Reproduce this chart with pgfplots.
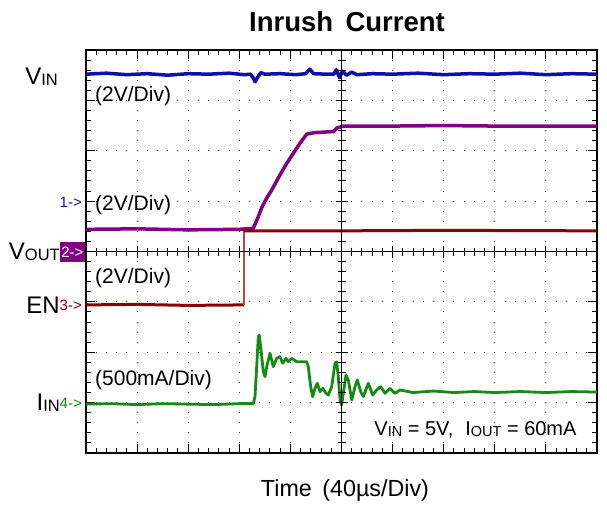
\documentclass[border=0pt]{standalone}
\usepackage{pgfplots}
\pgfplotsset{compat=1.18}
\usepackage{fontspec}
\setmainfont{Liberation Sans}
\definecolor{cblue}{RGB}{15,15,170}
\definecolor{cpurple}{RGB}{130,0,130}
\definecolor{cred}{RGB}{140,0,0}
\definecolor{credl}{RGB}{195,70,70}
\definecolor{cgreen}{RGB}{20,140,20}
\newcommand\biglbl[2]{{\fontsize{24}{24}\selectfont #1}\raisebox{-1.2pt}{\fontsize{16.5}{16.5}\selectfont #2}}
\newcommand\smlbl[2]{{\fontsize{20}{20}\selectfont #1}\raisebox{-1pt}{\fontsize{14.5}{14.5}\selectfont #2}}
\begin{document}
\begin{tikzpicture}
\path[use as bounding box] (-86pt,-56pt) rectangle (521pt,453pt);
\begin{axis}[at={(0pt,0pt)}, anchor=south west, scale only axis,
  width=511pt, height=403pt,
  xmin=0, xmax=10, ymin=0, ymax=8,
  xtick={0,...,10}, ytick={0,...,8},
  minor x tick num=4, minor y tick num=4,
  xticklabels={}, yticklabels={},
  tick align=inside, major tick length=9pt, minor tick length=5pt,
  every tick/.style={black, line width=1pt},
  axis line style={line width=1.3pt},
  grid=major,
  x grid style={black!80, line width=1pt, dash pattern=on 1pt off 9.075pt, dash phase=0.5pt},
  y grid style={black!80, line width=1pt, dash pattern=on 1pt off 9.22pt, dash phase=0.5pt},
  clip=false]
% VIN
\addplot[cblue, line width=3.5pt, line join=round] coordinates {
(0,7.52)(0.4,7.54)(0.8,7.51)(1.2,7.53)(1.6,7.50)(2.0,7.53)(2.4,7.52)(2.8,7.54)(3.1,7.51)(3.22,7.52)
(3.27,7.45)(3.31,7.37)(3.36,7.46)(3.42,7.55)(3.5,7.52)(3.8,7.53)(4.1,7.51)(4.3,7.53)(4.38,7.62)
(4.45,7.53)(4.7,7.52)(4.85,7.52)(4.9,7.61)(4.96,7.45)(5.02,7.58)(5.1,7.50)(5.2,7.56)(5.3,7.51)
(5.6,7.53)(6.0,7.52)(6.5,7.54)(7.0,7.51)(7.5,7.53)(8.0,7.52)(8.5,7.54)(9.0,7.51)(9.5,7.53)(10,7.52)};
% VOUT
\addplot[cpurple, line width=3.5pt, line join=round] coordinates {
(0,4.44)(1,4.45)(2,4.43)(3,4.44)(3.274,4.46)(3.372,4.69)(3.438,4.87)(3.536,5.06)(3.634,5.22)
(3.796,5.52)(3.928,5.75)(4.057,5.95)(4.188,6.15)(4.319,6.33)(4.481,6.36)(4.65,6.37)(4.840,6.38)
(4.906,6.45)(5.035,6.49)(6,6.49)(7,6.50)(8,6.49)(9,6.49)(10,6.49)};
% EN
\addplot[cred, line width=3pt] coordinates {(0,2.94)(1,2.95)(2,2.93)(3.09,2.94)};
\addplot[credl, line width=1.2pt] coordinates {(3.09,2.94)(3.09,4.41)};
\addplot[cred, line width=3pt] coordinates {(3.09,4.41)(5,4.41)(7,4.42)(10,4.41)};
% IIN
\addplot[cgreen, line width=2.8pt, line join=round] coordinates {
(0,0.97)(0.5,0.98)(1,0.96)(1.5,0.98)(2,0.97)(2.5,0.96)(3,0.98)(3.274,0.98)(3.307,1.118)(3.340,1.713)
(3.372,2.309)(3.391,2.342)(3.425,2.045)(3.470,1.614)(3.503,1.515)(3.536,1.713)(3.601,1.979)
(3.665,1.713)(3.732,1.880)(3.796,1.912)(3.849,1.781)(3.914,1.880)(3.959,1.812)(4.025,1.880)
(4.123,1.812)(4.253,1.812)(4.319,1.812)(4.350,1.713)(4.397,1.316)(4.436,1.118)(4.481,1.284)
(4.526,1.384)(4.579,1.217)(4.632,1.284)(4.697,1.185)(4.742,1.151)(4.808,1.316)(4.873,1.781)
(4.906,1.812)(4.937,1.515)(4.971,1.052)(5.004,0.953)(5.035,1.185)(5.088,1.548)(5.133,1.449)
(5.200,1.052)(5.264,1.316)(5.309,1.449)(5.376,1.217)(5.427,1.118)(5.524,1.384)(5.611,1.151)
(5.689,1.251)(5.767,1.316)(5.851,1.185)(5.949,1.284)(6.047,1.185)(6.145,1.251)(6.4,1.20)
(6.8,1.23)(7.2,1.20)(7.6,1.22)(8,1.20)(8.5,1.22)(9,1.20)(9.5,1.22)(10,1.21)};
% centre cross
\draw[line width=1.3pt] (axis cs:5,0) -- (axis cs:5,8);
\draw[line width=1.3pt] (axis cs:0,4) -- (axis cs:10,4);
\pgfplotsinvokeforeach{1,...,49}{\draw[line width=1pt] (axis cs:#1/5,4) ++(0,-4pt) -- ++(0,8pt);}
\pgfplotsinvokeforeach{1,...,39}{\draw[line width=1pt] (axis cs:5,#1/5) ++(-4pt,0) -- ++(8pt,0);}
\pgfplotsinvokeforeach{1,...,9}{\draw[line width=1pt] (axis cs:#1,4) ++(0,-6pt) -- ++(0,12pt);}
\pgfplotsinvokeforeach{1,...,7}{\draw[line width=1pt] (axis cs:5,#1) ++(-6pt,0) -- ++(12pt,0);}
\end{axis}
% labels
\node[font=\bfseries\fontsize{27.5}{27.5}\selectfont] at (261pt,431pt) {Inrush\hspace{0.45em}Current};
\node[font=\fontsize{23.3}{23.3}\selectfont] at (259pt,-37pt) {Time\hspace{0.45em}(40µs/Div)};
\node[anchor=east, inner sep=0pt] at (-28pt,376pt) {\biglbl{V}{IN}};
\node[anchor=west, inner sep=0pt, font=\fontsize{21}{21}\selectfont] at (9pt,357pt) {(2V/Div)};
\node[anchor=east, inner sep=0pt, text=cblue, font=\fontsize{15}{15}\selectfont] at (-4pt,251pt) {1->};
\node[anchor=west, inner sep=0pt, font=\fontsize{21}{21}\selectfont] at (9pt,248pt) {(2V/Div)};
\node[anchor=east, inner sep=0pt] at (-26pt,201pt) {\biglbl{V}{OUT}};
\node[anchor=east, fill=cpurple, text=white, inner sep=1pt, minimum height=20pt, minimum width=25pt, font=\fontsize{15}{15}\selectfont] at (-1pt,201pt) {2->};
\node[anchor=west, inner sep=0pt, font=\fontsize{21}{21}\selectfont] at (9pt,175pt) {(2V/Div)};
\node[anchor=east, inner sep=0pt, font=\fontsize{24}{24}\selectfont] at (-26pt,148pt) {EN};
\node[anchor=east, inner sep=0pt, text=cred, font=\fontsize{15}{15}\selectfont] at (-4pt,148pt) {3->};
\node[anchor=west, inner sep=0pt, font=\fontsize{21}{21}\selectfont] at (9pt,73pt) {(500mA/Div)};
\node[anchor=east, inner sep=0pt] at (-26pt,50pt) {\biglbl{I}{IN}};
\node[anchor=east, inner sep=0pt, text=cgreen, font=\fontsize{15}{15}\selectfont] at (-4pt,50pt) {4->};
\node[inner sep=0pt] at (389.5pt,23pt) {\smlbl{V}{IN}\fontsize{20}{20}\selectfont{} = 5V,\hspace{0.6em}\smlbl{I}{OUT}\fontsize{20}{20}\selectfont{} = 60mA};
\end{tikzpicture}
\end{document}
